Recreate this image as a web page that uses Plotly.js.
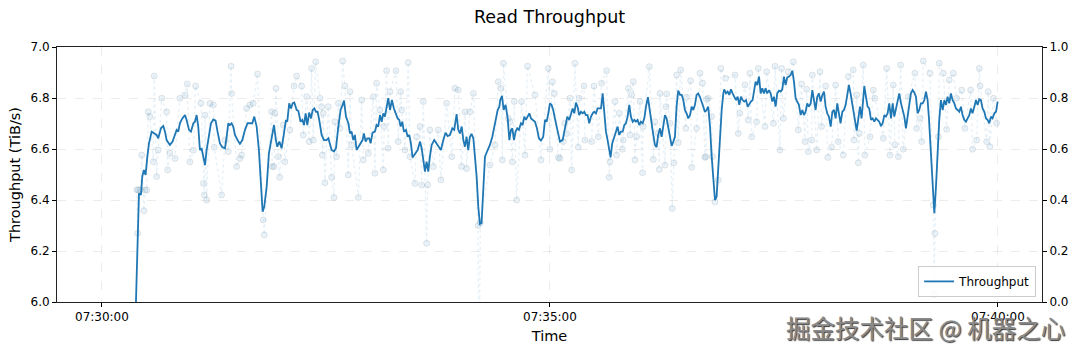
<!DOCTYPE html>
<html>
<head>
<meta charset="utf-8">
<script src="https://cdn.plot.ly/plotly-3.0.1.min.js"></script>
<style>html,body{margin:0;padding:0;background:#fff;}#chart{width:1080px;height:353px;}</style>
</head>
<body>
<div id="chart"></div>
<script>
// Seconds after 07:30:00 and smoothed throughput (TiB/s)
const lineSec = [22.3,24.8,26.1,27.0,28.1,29.2,30.4,31.5,33.3,35.0,36.6,37.7,39.5,41.1,42.2,43.3,45.5,47.3,48.9,50.0,51.1,52.2,53.8,55.6,56.7,58.3,59.6,61.2,62.3,63.4,64.5,65.6,66.7,67.9,69.0,70.1,71.7,73.0,74.6,76.1,77.4,79.0,80.6,82.4,83.5,84.6,85.7,86.8,87.9,89.1,90.8,92.4,94.0,95.8,97.5,99.1,100.7,102.0,103.6,105.1,106.5,107.6,108.7,110.3,111.8,
113.6,115.2,116.5,117.4,118.8,120.3,121.9,123.2,124.1,125.4,126.6,127.7,128.8,130.4,131.5,133.0,134.2,135.3,136.4,137.5,138.8,140.0,141.1,142.2,143.3,144.4,145.5,147.1,148.7,150.4,151.6,152.7,153.8,155.4,156.7,158.3,159.8,161.2,162.1,163.4,165.0,166.1,167.2,168.3,169.4,170.5,171.9,173.2,174.5,175.4,176.6,177.7,179.0,179.9,181.2,182.8,183.9,185.0,186.2,187.3,188.4,189.5,190.6,191.7,192.9,194.2,195.5,196.9,198.0,199.1,200.0,201.1,202.2,203.6,204.7,205.8,206.9,208.0,209.6,
211.4,213.0,214.1,215.2,216.3,217.4,218.5,219.6,220.8,222.5,224.1,225.7,227.0,228.6,230.1,231.5,233.0,234.6,235.9,237.5,238.6,239.7,240.9,242.0,243.1,244.2,245.3,246.4,247.5,248.7,249.8,250.9,252.0,253.1,254.2,255.4,256.5,258.3,259.8,261.4,262.7,263.8,265.0,266.1,266.7,267.9,269.0,270.3,271.7,272.8,273.9,274.8,275.9,277.0,278.1,279.2,280.6,281.7,282.8,283.9,285.0,286.2,287.3,288.4,290.0,291.3,292.6,294.0,295.5,296.7,297.8,298.9,300.0,301.1,302.2,303.3,304.5,305.6,306.7,
308.5,310.0,311.6,312.9,314.1,315.2,316.3,317.4,318.5,319.6,320.8,321.9,323.0,324.1,325.2,326.3,327.5,328.6,329.7,330.8,331.9,333.0,334.2,335.3,336.4,337.5,338.6,339.7,340.6,341.7,343.1,344.2,345.3,346.4,347.5,348.7,349.8,350.9,352.0,353.1,354.2,355.4,356.5,357.6,358.7,359.8,360.9,362.1,363.2,364.3,365.6,367.0,368.1,369.2,370.3,371.4,372.5,373.7,374.8,375.9,377.0,378.1,379.2,380.4,381.5,382.6,383.7,384.8,385.9,387.1,388.2,389.3,390.4,391.5,392.6,393.8,394.9,396.0,397.1,398.2,399.3,400.4,401.6,402.7,403.8,
404.9,406.0,407.2,408.3,409.4,410.5,411.6,412.7,413.8,415.0,416.1,416.7,417.9,419.0,420.1,421.2,422.3,423.4,424.6,425.7,426.8,427.9,429.0,430.1,431.3,432.4,433.5,434.6,435.7,436.8,437.7,438.8,440.0,441.1,442.2,443.3,444.4,445.5,446.7,447.8,448.9,450.0,451.1,452.2,453.4,454.5,455.6,456.7,457.8,458.9,460.1,461.2,462.3,463.4,464.5,465.6,466.7,467.9,469.0,470.1,471.2,472.3,473.4,474.6,475.7,476.8,477.9,479.0,480.1,481.3,482.4,483.5,484.6,485.7,486.8,488.0,489.1,490.2,491.3,492.4,493.5,494.6,495.8,496.9,498.0,499.1,500.2,501.3,502.3,
503.1,504.2,505.4,506.5,507.6,508.7,509.8,510.5,511.6,512.7,513.8,515.0,516.1,517.2,518.3,519.4,520.5,521.7,522.8,523.9,525.0,526.1,527.2,528.4,529.5,530.6,531.7,532.8,533.9,535.1,536.2,537.3,538.4,539.5,540.6,541.7,542.9,544.0,545.1,546.2,547.3,548.4,549.6,550.7,551.8,552.9,553.8,554.9,556.0,557.4,558.5,559.6,560.7,561.8,563.0,564.1,565.2,566.3,567.4,568.5,569.6,570.8,571.9,573.0,574.1,575.2,576.3,577.5,578.6,579.7,580.8,581.9,583.0,584.2,585.3,586.4,587.5,588.6,589.7,590.9,592.0,593.1,594.2,595.3,596.4,597.6,598.7,599.8];
const lineVal = [5.90,6.426,6.420,6.492,6.518,6.498,6.570,6.622,6.668,6.661,6.655,6.642,6.681,6.690,6.668,6.635,6.616,6.629,6.655,6.675,6.668,6.701,6.720,6.733,6.714,6.675,6.668,6.701,6.707,6.733,6.688,6.596,6.603,6.570,6.537,6.596,6.655,6.701,6.716,6.711,6.668,6.622,6.607,6.603,6.648,6.701,6.694,6.701,6.688,6.655,6.635,6.620,6.635,6.675,6.701,6.701,6.701,6.727,6.688,6.596,6.452,6.354,6.374,6.452,6.583,
6.648,6.694,6.635,6.609,6.629,6.603,6.661,6.714,6.707,6.779,6.759,6.779,6.782,6.753,6.750,6.707,6.714,6.694,6.740,6.694,6.743,6.720,6.753,6.759,6.746,6.746,6.714,6.655,6.635,6.635,6.642,6.616,6.596,6.590,6.603,6.688,6.753,6.773,6.790,6.727,6.701,6.661,6.668,6.635,6.655,6.596,6.609,6.622,6.635,6.661,6.629,6.642,6.642,6.622,6.664,6.668,6.694,6.688,6.733,6.707,6.740,6.727,6.773,6.799,6.753,6.792,6.759,6.740,6.720,6.714,6.688,6.707,6.668,6.675,6.648,6.655,6.622,6.567,6.580,
6.596,6.629,6.603,6.557,6.511,6.550,6.511,6.570,6.616,6.635,6.622,6.607,6.596,6.635,6.664,6.651,6.655,6.681,6.675,6.737,6.675,6.661,6.688,6.635,6.609,6.648,6.596,6.648,6.659,6.642,6.576,6.492,6.374,6.306,6.309,6.426,6.570,6.596,6.616,6.648,6.688,6.727,6.753,6.766,6.792,6.808,6.753,6.773,6.720,6.635,6.675,6.681,6.635,6.668,6.681,6.675,6.701,6.694,6.727,6.714,6.727,6.740,6.720,6.714,6.707,6.681,6.642,6.633,6.648,6.714,6.707,6.740,6.779,6.773,6.753,6.720,6.688,6.655,6.629,
6.635,6.688,6.727,6.714,6.740,6.759,6.740,6.782,6.766,6.733,6.746,6.740,6.746,6.733,6.733,6.701,6.727,6.740,6.746,6.740,6.759,6.759,6.759,6.818,6.740,6.668,6.635,6.596,6.567,6.622,6.648,6.675,6.688,6.655,6.668,6.668,6.694,6.701,6.727,6.773,6.727,6.707,6.714,6.707,6.714,6.694,6.707,6.701,6.720,6.766,6.803,6.746,6.688,6.655,6.616,6.607,6.655,6.681,6.648,6.694,6.733,6.720,6.688,6.648,6.612,6.629,6.648,6.766,6.829,6.812,6.812,6.792,6.753,6.740,6.720,6.733,6.766,6.753,6.773,6.812,6.818,6.805,6.779,6.766,6.745,
6.753,6.766,6.688,6.570,6.478,6.400,6.413,6.518,6.648,6.753,6.818,6.834,6.818,6.825,6.812,6.834,6.818,6.805,6.792,6.805,6.773,6.805,6.792,6.786,6.792,6.766,6.779,6.786,6.792,6.825,6.864,6.851,6.884,6.818,6.838,6.818,6.838,6.818,6.831,6.818,6.786,6.805,6.766,6.818,6.829,6.825,6.834,6.884,6.851,6.881,6.884,6.890,6.907,6.864,6.799,6.786,6.773,6.733,6.753,6.733,6.746,6.779,6.766,6.779,6.831,6.792,6.753,6.805,6.818,6.786,6.812,6.825,6.766,6.740,6.727,6.688,6.746,6.753,6.720,6.779,6.740,6.701,6.746,6.753,6.773,6.818,6.851,6.818,6.775,
6.753,6.714,6.672,6.727,6.766,6.720,6.818,6.847,6.805,6.766,6.759,6.714,6.720,6.707,6.720,6.714,6.707,6.690,6.701,6.733,6.727,6.740,6.779,6.720,6.779,6.727,6.759,6.779,6.818,6.779,6.753,6.727,6.681,6.727,6.766,6.818,6.831,6.821,6.805,6.740,6.753,6.779,6.779,6.792,6.825,6.792,6.720,6.609,6.465,6.348,6.452,6.609,6.714,6.792,6.753,6.792,6.773,6.805,6.779,6.818,6.792,6.779,6.759,6.753,6.746,6.766,6.733,6.714,6.707,6.720,6.733,6.759,6.740,6.766,6.792,6.773,6.795,6.792,6.759,6.746,6.720,6.714,6.701,6.727,6.720,6.740,6.746,6.786];

// Raw samples (faint markers), seconds after 07:30:00 and TiB/s
const rawSec = [23.4,23.9,24.3,25.8,26.6,28.1,28.8,30.0,31.0,32.1,34.4,35.0,36.6,37.7,40.0,43.3,44.0,45.5,48.9,52.2,55.6,57.1,58.9,61.2,62.7,66.3,67.9,68.5,69.0,70.1,72.3,74.6,75.2,80.1,82.4,84.6,86.4,86.8,90.2,92.4,93.5,96.9,99.1,101.3,104.2,108.0,108.7,113.6,114.0,
115.2,115.8,116.5,118.1,119.0,121.4,122.5,125.9,128.6,130.4,133.7,134.8,137.1,138.8,140.4,141.5,143.1,146.0,147.1,147.6,148.2,149.3,151.6,153.8,155.4,156.0,157.1,158.3,159.4,161.2,162.7,165.0,166.1,167.2,171.7,173.9,175.0,178.3,181.7,182.8,183.9,186.2,188.4,189.0,190.6,191.7,192.9,196.9,198.4,200.0,200.7,202.9,205.1,206.3,209.6,
210.7,213.0,214.1,215.2,217.4,218.1,219.6,221.9,225.2,227.0,230.8,234.2,236.4,238.6,240.9,243.1,244.2,246.4,248.7,251.8,252.6,253.4,259.8,263.2,265.4,267.2,268.1,268.8,272.1,273.2,274.8,276.1,277.7,281.0,283.3,285.0,290.0,294.0,298.9,300.0,301.6,302.9,305.6,
306.7,308.9,310.0,311.2,313.4,314.5,316.7,319.0,319.6,322.8,323.4,327.9,329.5,332.4,334.6,337.9,339.7,340.2,343.5,344.6,346.4,348.5,349.1,352.5,353.6,354.7,355.8,356.9,358.0,360.3,362.0,362.5,366.5,369.2,370.3,372.5,373.2,373.7,377.0,377.7,378.1,380.4,381.9,383.0,384.8,385.9,387.5,391.0,391.5,394.2,394.9,398.2,400.5,402.2,403.8,
404.3,404.9,406.0,408.3,408.8,410.5,412.7,414.5,417.6,423.9,426.1,427.2,430.6,432.8,433.9,435.1,438.4,439.5,444.0,445.1,449.6,450.7,454.0,455.1,456.3,459.6,463.0,466.3,468.5,470.8,471.9,473.0,475.2,475.7,478.6,480.8,481.9,484.6,486.0,488.6,491.3,493.1,496.4,499.8,
503.1,503.6,505.4,506.5,507.1,509.8,510.9,514.3,516.5,517.6,523.2,525.5,527.7,529.9,531.0,533.3,534.8,536.6,540.0,544.4,545.5,547.8,548.9,550.0,554.5,556.7,557.3,557.8,560.1,560.7,563.4,565.6,567.4,570.1,572.3,575.7,577.9,581.7,583.0,585.7,587.5,588.0,592.4,593.5,594.6,596.9,599.1];
const rawVal = [6.44,6.27,6.439,6.44,6.576,6.358,6.439,6.439,6.746,6.727,6.550,6.886,6.492,6.596,6.799,6.746,6.518,6.583,6.563,6.799,6.812,6.855,6.550,6.596,6.847,6.779,6.465,6.420,6.733,6.400,6.779,6.773,6.607,6.420,6.635,6.590,6.925,6.818,6.531,6.563,6.576,6.759,6.773,6.779,6.894,6.322,6.263,6.746,6.531,
6.531,6.740,6.838,6.570,6.489,6.694,6.550,6.675,6.847,6.886,6.847,6.655,6.805,6.629,6.916,6.635,6.942,6.799,6.766,6.576,6.740,6.468,6.766,6.489,6.410,6.707,6.570,6.779,6.681,6.945,6.847,6.498,6.825,6.616,6.410,6.792,6.557,6.583,6.805,6.505,6.858,6.753,6.518,6.688,6.907,6.603,6.825,6.907,6.629,6.825,6.753,6.596,6.939,6.570,6.465,
6.648,6.688,6.459,6.786,6.230,6.459,6.675,6.531,6.675,6.479,6.779,6.570,6.838,6.831,6.531,6.746,6.524,6.746,6.818,6.300,5.700,6.310,6.537,6.616,6.864,6.838,6.557,6.936,6.720,6.707,6.550,6.786,6.400,6.786,6.576,6.925,6.812,6.557,6.916,6.599,6.864,6.818,6.567,
6.563,6.629,6.701,6.661,6.799,6.518,6.936,6.607,6.799,6.847,6.635,6.629,6.847,6.648,6.858,6.907,6.489,6.550,6.786,6.576,6.740,6.599,6.635,6.838,6.655,6.812,6.864,6.557,6.648,6.786,6.507,6.688,6.923,6.559,6.707,6.661,6.520,6.818,6.537,6.766,6.816,6.701,6.367,6.546,6.890,6.625,6.910,6.681,6.803,6.868,6.528,6.681,6.897,6.858,6.567,
6.570,6.795,6.799,6.727,6.570,6.393,6.478,6.916,6.877,6.890,6.661,6.740,6.851,6.714,6.897,6.648,6.707,6.916,6.688,6.903,6.701,6.925,6.596,6.916,6.720,6.903,6.942,6.675,6.855,6.629,6.834,6.590,6.635,6.890,6.596,6.903,6.688,6.847,6.567,6.607,6.851,6.629,6.576,6.884,
6.910,6.635,6.812,6.546,6.661,6.929,6.576,6.648,6.831,6.799,6.642,6.916,6.576,6.851,6.616,6.570,6.929,6.599,6.805,6.897,6.681,6.720,6.629,6.945,6.897,6.380,6.030,6.269,6.648,6.936,6.897,6.677,6.871,6.897,6.799,6.831,6.681,6.831,6.599,6.635,6.916,6.847,6.629,6.825,6.609,6.799,6.701];

const tickSec = [0, 300, 600];
const yTicks = [6.0, 6.2, 6.4, 6.6, 6.8, 7.0];
const y2Ticks = [0.0, 0.2, 0.4, 0.6, 0.8, 1.0];

const base = Date.UTC(2024, 4, 1, 7, 30, 0);
const toMs = s => base + s * 1000;

const FONT = 'DejaVu Sans, sans-serif';
const BLUE = '#1f77b4';
const GRID = 'rgba(170,170,170,0.22)';

const traces = [
  {
    x: rawSec.map(toMs), y: rawVal, type: 'scatter', mode: 'lines+markers',
    line: {color: 'rgba(31,119,180,0.11)', width: 1.3, dash: 'dot'},
    marker: {size: 6, color: 'rgba(31,119,180,0.09)', line: {color: 'rgba(90,110,130,0.16)', width: 1}},
    showlegend: false, hoverinfo: 'skip'
  },
  {
    x: lineSec.map(toMs), y: lineVal, type: 'scatter', mode: 'lines',
    name: 'Throughput', line: {color: BLUE, width: 1.8}
  },
  {
    x: [toMs(0)], y: [0], type: 'scatter', mode: 'markers', yaxis: 'y2',
    marker: {opacity: 0}, showlegend: false, hoverinfo: 'skip'
  }
];

const layout = {
  width: 1080, height: 353,
  margin: {l: 57, r: 38, t: 47, b: 51, pad: 0},
  paper_bgcolor: '#fff', plot_bgcolor: '#fff',
  font: {family: FONT, size: 12, color: '#000'},
  title: {text: 'Read Throughput', x: 0.5, xref: 'paper', xanchor: 'center',
          y: 1 - 17/353, yref: 'container', yanchor: 'middle',
          font: {family: FONT, size: 17.5, color: '#000'}},
  xaxis: {
    type: 'date', range: [toMs(-30.1), toMs(629.5)],
    tickvals: tickSec.map(toMs), tickformat: '%H:%M:%S',
    ticks: 'outside', ticklen: 4, tickcolor: '#000', tickwidth: 1,
    showline: true, linecolor: '#222', linewidth: 1, mirror: true,
    showgrid: true, gridcolor: GRID, griddash: 'dash', gridwidth: 1,
    zeroline: false, tickfont: {family: FONT, size: 12, color: '#000'},
    title: {text: 'Time', font: {family: FONT, size: 14.5, color: '#000'}, standoff: 7}
  },
  yaxis: {
    range: [6.0, 7.0], tickvals: yTicks, tickformat: '.1f',
    ticks: 'outside', ticklen: 4, tickcolor: '#000', tickwidth: 1,
    showline: true, linecolor: '#222', linewidth: 1, mirror: true,
    showgrid: true, gridcolor: GRID, griddash: 'dash', gridwidth: 1,
    zeroline: false, tickfont: {family: FONT, size: 12, color: '#000'},
    title: {text: 'Throughput (TiB/s)', font: {family: FONT, size: 14.5, color: '#000'}, standoff: 6}
  },
  yaxis2: {
    overlaying: 'y', side: 'right', range: [0, 1], tickvals: y2Ticks, tickformat: '.1f',
    ticks: 'outside', ticklen: 4, tickcolor: '#000', tickwidth: 1,
    showline: true, linecolor: '#222', linewidth: 1,
    showgrid: false, zeroline: false, tickfont: {family: FONT, size: 12, color: '#000'}
  },
  legend: {
    x: 0.994, y: 0.02, xanchor: 'right', yanchor: 'bottom',
    bgcolor: 'rgba(255,255,255,0.85)', bordercolor: '#cccccc', borderwidth: 1,
    font: {family: FONT, size: 12, color: '#000'}
  },
  annotations: [{
    text: '掘金技术社区 @ 机器之心', xref: 'paper', yref: 'paper',
    x: 1.025, y: -0.025, xanchor: 'right', yanchor: 'top', showarrow: false,
    font: {family: 'Noto Sans CJK SC, sans-serif', size: 24.5, color: '#8a8a8a', shadow: '1px 1px 1px #3a3a3a'}
  }]
};

Plotly.newPlot('chart', traces, layout, {displayModeBar: false, staticPlot: true});
</script>
</body>
</html>
